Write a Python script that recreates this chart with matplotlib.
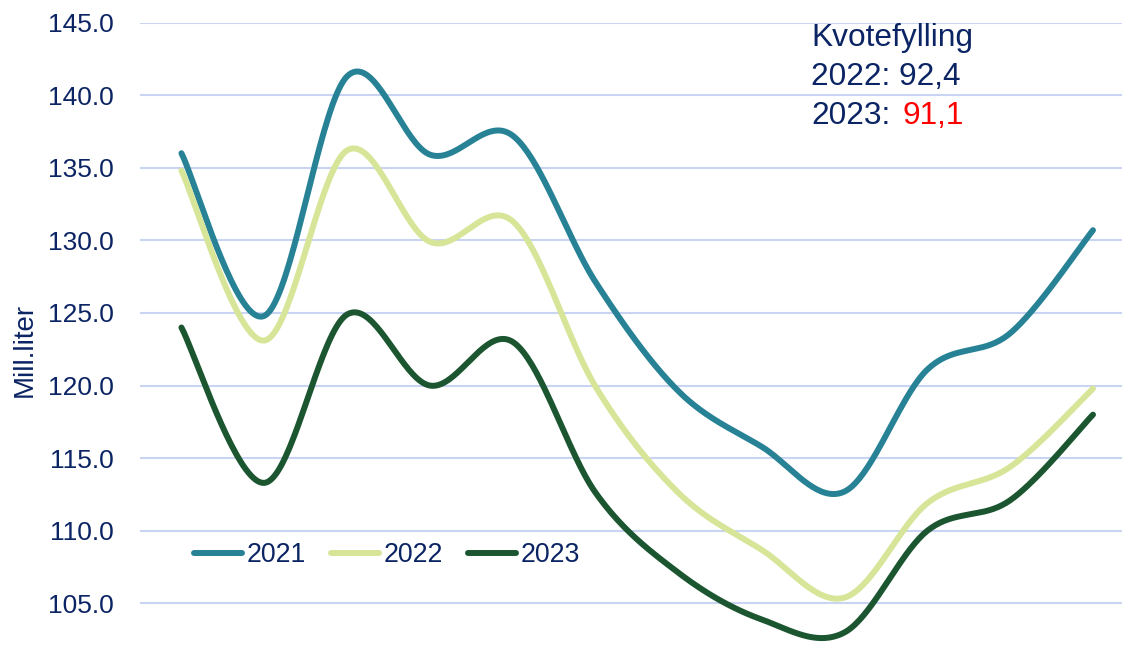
import matplotlib
matplotlib.use("Agg")
import matplotlib.pyplot as plt
import matplotlib.patheffects as pe
import numpy as np

plt.rcParams['font.family'] = ['Liberation Sans', 'DejaVu Sans']

# Monthly volumes (Mill. liter)
months = ['Jan', 'Feb', 'Mar', 'Apr', 'Mai', 'Jun', 'Jul', 'Aug', 'Sep', 'Okt', 'Nov', 'Des']
vol_2021 = [136.0, 124.8, 141.3, 135.9, 137.2, 127.1, 119.6, 115.8, 112.7, 121.1, 123.6, 130.7]
vol_2022 = [134.8, 123.1, 136.2, 129.9, 131.3, 119.9, 112.6, 108.7, 105.4, 111.9, 114.4, 119.8]
vol_2023 = [124.0, 113.3, 124.9, 120.0, 123.0, 112.6, 107.1, 103.9, 103.0, 110.0, 112.1, 118.0]

series = [('2021', vol_2021, '#288296'),
          ('2022', vol_2022, '#D6E597'),
          ('2023', vol_2023, '#1B5631')]

NAVY = '#0B2463'


def smooth(x, y, n=40):
    """Catmull-Rom style bezier smoothing, like Excel's smoothed lines."""
    x = np.asarray(x, float)
    y = np.asarray(y, float)
    px = np.concatenate([[x[0]], x, [x[-1]]])
    py = np.concatenate([[y[0]], y, [y[-1]]])
    t = np.linspace(0, 1, n)
    xs, ys = [], []
    for i in range(1, len(px) - 2):
        p0x, p1x = px[i], px[i + 1]
        p0y, p1y = py[i], py[i + 1]
        c1x = p0x + (px[i + 1] - px[i - 1]) / 6
        c1y = p0y + (py[i + 1] - py[i - 1]) / 6
        c2x = p1x - (px[i + 2] - px[i]) / 6
        c2y = p1y - (py[i + 2] - py[i]) / 6
        b0 = (1 - t) ** 3
        b1 = 3 * (1 - t) ** 2 * t
        b2 = 3 * (1 - t) * t ** 2
        b3 = t ** 3
        xs.append(b0 * p0x + b1 * c1x + b2 * c2x + b3 * p1x)
        ys.append(b0 * p0y + b1 * c1y + b2 * c2y + b3 * p1y)
    return np.concatenate(xs), np.concatenate(ys)


fig = plt.figure(figsize=(11.22, 6.47), dpi=100)
ax = fig.add_axes([140 / 1122, 0.0, 1 - 140 / 1122, 1 - 22.5 / 647])

x = np.arange(len(months))
for label, vals, color in series:
    sx, sy = smooth(x, vals)
    ax.plot(sx, sy, color=color, linewidth=4.3, solid_capstyle='round', label=label,
            path_effects=[pe.SimpleLineShadow(offset=(1.5, -1.5), alpha=0.25, shadow_color='black'),
                          pe.Normal()], zorder=3)

ax.set_xlim(-0.5, 11.35)
ax.set_ylim(102, 145)
ax.set_yticks(np.arange(105, 146, 5))
ax.set_yticklabels([f'{v:.1f}' for v in np.arange(105, 146, 5)])
ax.set_xticks([])
ax.grid(axis='y', color='#C9D3F2', linewidth=1.5)
ax.set_axisbelow(True)
for s in ax.spines.values():
    s.set_visible(False)
ax.tick_params(axis='y', length=0, pad=19, labelsize=19, labelcolor=NAVY)

fig.text(25 / 1122, 1 - 350 / 647, 'Mill.liter', rotation=90, fontsize=20,
         color=NAVY, ha='center', va='center')

handles, labels = ax.get_legend_handles_labels()
for h in handles:
    h.set_path_effects([])
fig.legend(handles, labels, loc='center left', ncol=3, frameon=False,
           bbox_to_anchor=(194 / 1122, 1 - 555 / 647), fontsize=19.3,
           labelcolor=NAVY, handlelength=1.8, handletextpad=0.15,
           columnspacing=0.95, borderpad=0, borderaxespad=0)

fs = 22.8
fig.text(811 / 1122, 1 - 45.7 / 647, 'Kvotefylling', fontsize=fs, color=NAVY, va='baseline')
fig.text(811 / 1122, 1 - 85 / 647, '2022: 92,4', fontsize=fs, color=NAVY, va='baseline')
fig.text(811 / 1122, 1 - 124 / 647, '2023:', fontsize=fs, color=NAVY, va='baseline')
fig.text(902 / 1122, 1 - 124 / 647, '91,1', fontsize=fs, color='#FF0000', va='baseline')

fig.savefig('out.png', dpi=100)
